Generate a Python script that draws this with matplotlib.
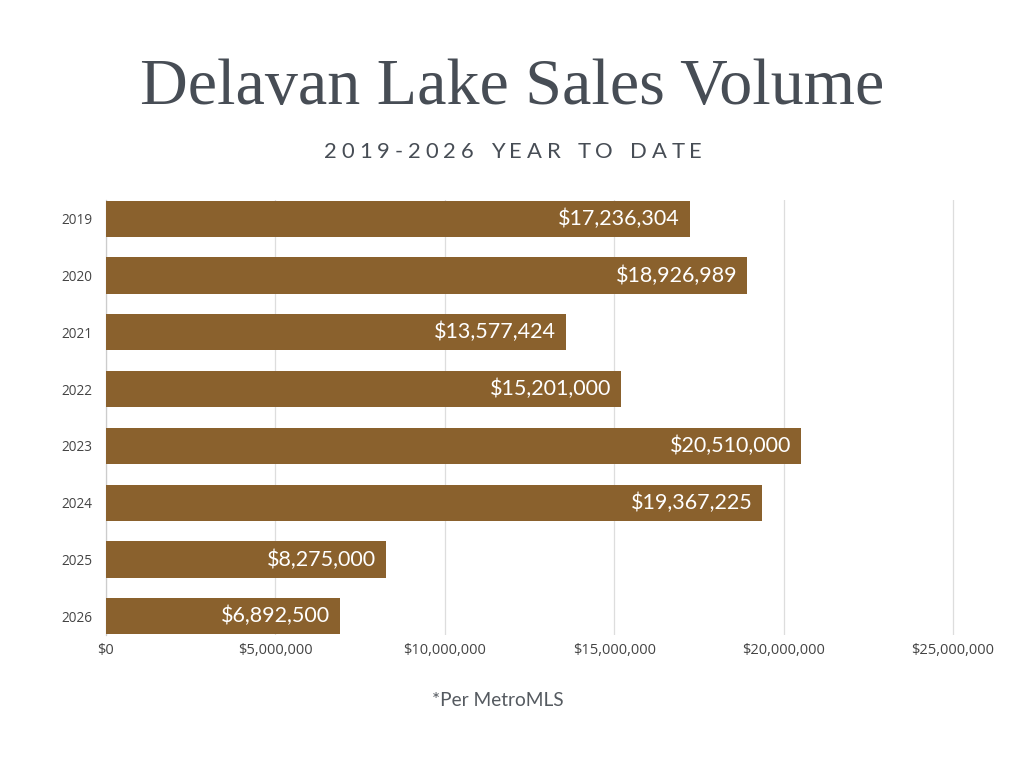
import matplotlib
matplotlib.use("Agg")
import matplotlib.pyplot as plt
from matplotlib.ticker import FuncFormatter

years = ["2019", "2020", "2021", "2022", "2023", "2024", "2025", "2026"]
volumes = [17236304, 18926989, 13577424, 15201000, 20510000, 19367225, 8275000, 6892500]
x_ticks = [0, 5000000, 10000000, 15000000, 20000000, 25000000]

title = "Delavan Lake Sales Volume"
subtitle = "2019-2026 YEAR TO DATE"
footer = "*Per MetroMLS"

BAR = "#8a612d"
TXT = "#474d55"

fig = plt.figure(figsize=(10.24, 7.68), dpi=100)
fig.patch.set_facecolor("white")

W, H = 1024, 768
XMAX = 25050000
ax = fig.add_axes([106 / W, 1 - 635 / H, (953 - 106) * XMAX / 25000000 / W, (635 - 200) / H])
ypos = list(range(len(years)))
ax.barh(ypos, volumes, height=0.64, color=BAR, zorder=3)
ax.set_ylim(len(years) - 1 + 0.33, -0.33)
ax.set_xlim(0, XMAX)
ax.set_yticks(ypos)
ax.set_yticklabels(years, fontfamily="Open Sans", fontsize=9.8, color="#444444")
ax.set_xticks(x_ticks)
ax.xaxis.set_major_formatter(FuncFormatter(lambda v, p: f"${v:,.0f}"))
for lab in ax.get_xticklabels():
    lab.set_fontfamily("Open Sans")
    lab.set_fontsize(10.5)
    lab.set_color("#444444")
ax.tick_params(axis="both", length=0)
ax.tick_params(axis="y", pad=10)
ax.tick_params(axis="x", pad=6)
ax.grid(axis="x", color="#dddddd", linewidth=0.9, zorder=0)
for s in ["top", "right", "bottom"]:
    ax.spines[s].set_visible(False)
ax.spines["left"].set_color("#cccccc")
ax.spines["left"].set_linewidth(0.9)

for y, v in zip(ypos, volumes):
    ax.text(v - 290000, y, f"${v:,.0f}", ha="right", va="center", color="white",
            fontfamily="Lato", fontsize=15.5, zorder=4)

# Title
fig.text(0.5, 1 - 88 / H, title, ha="center", va="center", fontfamily="Liberation Serif",
         fontsize=47.5, color=TXT)

# Letter-spaced subtitle
renderer = fig.canvas.get_renderer()
spacing = 5.0  # px extra per char
fs = 15.8
chars = list(subtitle)
widths = []
for c in chars:
    t = fig.text(0, 0, c if c != " " else "n", fontfamily="Lato", fontsize=fs)
    bb = t.get_window_extent(renderer)
    widths.append(bb.width if c != " " else bb.width * 0.55)
    t.remove()
total = sum(widths) + spacing * (len(chars) - 1)
x0 = 513 - total / 2
for c, w in zip(chars, widths):
    if c != " ":
        fig.text(x0 / W, 1 - 152 / H, c, ha="left", va="center", fontfamily="Lato",
                 fontsize=fs, color=TXT)
    x0 += w + spacing

fig.text(498 / W, 1 - 700 / H, footer, ha="center", va="center", fontfamily="Lato",
         fontsize=13.8, color="#555a60")

fig.savefig("out.png", dpi=100, facecolor="white")
